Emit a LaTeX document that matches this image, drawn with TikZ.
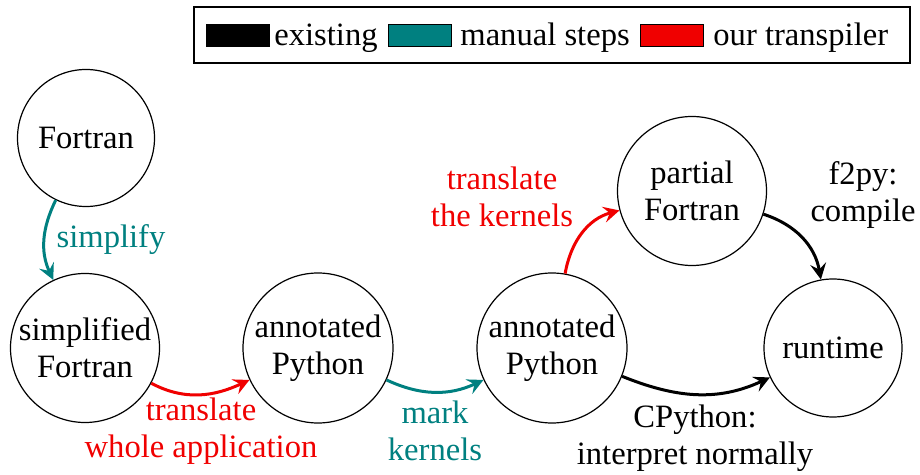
\documentclass[tikz,border=0pt]{standalone}
\usepackage{fontspec}
\setmainfont{Liberation Serif}
\usetikzlibrary{arrows.meta}
\definecolor{tealc}{RGB}{0,128,128}
\definecolor{redc}{RGB}{240,0,0}
\begin{document}
\begin{tikzpicture}[x=0.5pt,y=-0.5pt,
  every node/.style={font=\rmfamily\fontsize{16.3}{18.5}\selectfont},
  state/.style={draw, circle, line width=0.6pt, inner sep=0pt, align=center, minimum size=#1},
  lbl/.style={align=center, inner sep=0pt},
  conn/.style={line width=1.5pt, -{Stealth[length=8pt,width=8pt,inset=3pt]}},
  swatch/.style={draw=black, line width=0.4pt, minimum width=31.5pt, minimum height=11pt, inner sep=0pt},
  legtext/.style={anchor=base west, inner sep=0pt}]
\useasboundingbox (0,0) rectangle (920,475);
% legend
\node[draw, line width=0.6pt, inner sep=0pt, minimum width=358pt, minimum height=28pt] (legend) at (552,35) {};
\node[swatch, fill=black] (s1) at (237.5,35) {};
\node[legtext] (t1) at (274,46) {existing};
\node[swatch, fill=tealc] (s2) at (420,35) {};
\node[legtext] (t2) at (460,46) {manual steps};
\node[swatch, fill=redc] (s3) at (672,35) {};
\node[legtext] (t3) at (713,46) {our transpiler};
% states
\node[state=68.5pt] (fortran) at (86,138) {Fortran};
\node[state=74.5pt] (simp) at (85,348) {simplified\\Fortran};
\node[state=75pt] (ann1) at (318,348) {annotated\\Python};
\node[state=75pt] (ann2) at (552,348) {annotated\\Python};
\node[state=74.5pt] (part) at (692,191) {partial\\Fortran};
\node[state=69pt] (run) at (833,348) {runtime};
% connectors
\draw[conn, tealc] (fortran) to[out=244,in=115] (simp);
\draw[conn, redc] (simp) to[out=-28,in=205] (ann1);
\draw[conn, tealc] (ann1) to[out=-25,in=205] (ann2);
\draw[conn, redc] (ann2) to[out=80,in=195] (part);
\draw[conn, black] (part) to[out=-18,in=100] (run);
\draw[conn, black] (ann2) to[out=-22,in=205] (run);
% labels
\node[lbl, tealc] (l1) at (111,240) {simplify};
\node[lbl, redc] (l2) at (201,431) {translate\\whole application};
\node[lbl, tealc] (l3) at (435,431) {mark\\kernels};
\node[lbl, redc] (l4) at (502,197) {translate\\the kernels};
\node[lbl] (l5) at (863,195) {f2py:\\compile};
\node[lbl] (l6) at (695,438) {CPython:\\interpret normally};
\end{tikzpicture}
\end{document}
